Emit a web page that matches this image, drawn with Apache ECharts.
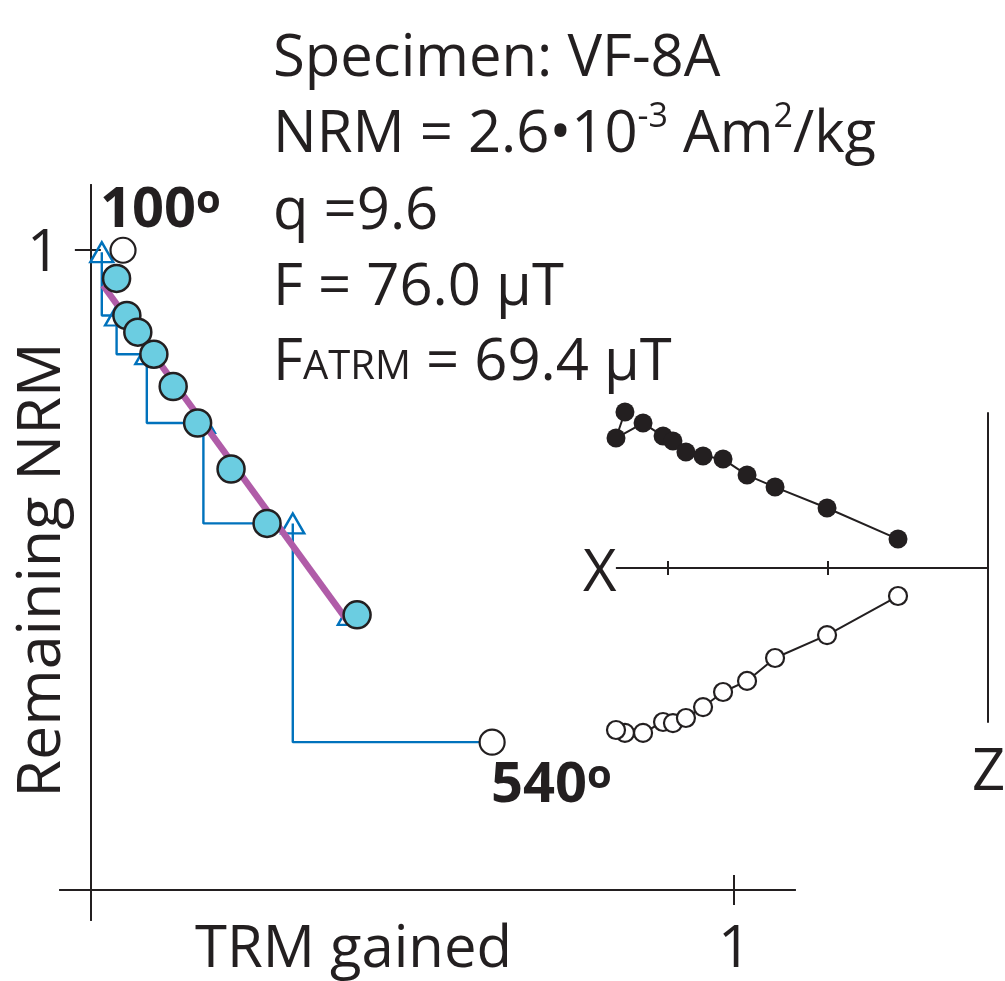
<!DOCTYPE html>
<html>
<head>
<meta charset="utf-8">
<script src="https://cdn.jsdelivr.net/npm/echarts@6/dist/echarts.min.js"></script>
<style>
  html, body { margin: 0; padding: 0; background: #ffffff; }
  #chart { width: 1005px; height: 981px; }
</style>
</head>
<body>
<div id="chart"></div>
<script>
// ---------------- Arai plot data ----------------
const stepLabels = ['100', '540'];
// NRM-TRM points (first = 100°, last = 540°; open symbols not in fit)
const araiTRM = [0.050, 0.040, 0.056, 0.073, 0.098, 0.128, 0.166, 0.218, 0.274, 0.414, 0.624];
const araiNRM = [1.000, 0.956, 0.898, 0.872, 0.8375, 0.787, 0.730, 0.658, 0.573, 0.430, 0.231];
const araiInFit = [false, true, true, true, true, true, true, true, true, true, false];
// pTRM checks
const checkTRM = [0.017, 0.040, 0.087, 0.175, 0.314, 0.402];
const checkNRM = [0.997, 0.898, 0.8375, 0.730, 0.573, 0.430];
const checkToStep = [2, 4, 6, 8, 10, null];
// best-fit segment
const fitTRM = [0.019, 0.398];
const fitNRM = [0.945, 0.422];
const araiTicks = [1];

// ---------------- Zijderveld inset data ----------------
const zijX = [2.269, 2.325, 2.156, 2.031, 1.969, 1.888, 1.781, 1.656, 1.506, 1.331, 1.006, 0.5625];
const zijHoriz = [0.975, 0.8125, 0.906, 0.825, 0.794, 0.725, 0.700, 0.681, 0.581, 0.506, 0.375, 0.181];
const zijVert = [-1.031, -1.0125, -1.031, -0.9625, -0.969, -0.9375, -0.869, -0.775, -0.706, -0.5625, -0.419, -0.175];
const zijTicks = [1, 2];

// ---------------- styling ----------------
const INK = '#231f20';
const BLUE = '#0072bc';
const CYAN = '#6bcde1';
const PURPLE = '#b05ca8';
const FONT = 'Open Sans';
const FS = 58;

const chart = echarts.init(document.getElementById('chart'), null, { renderer: 'canvas' });

const fitted = [], unfitted = [];
araiTRM.forEach((x, i) => (araiInFit[i] ? fitted : unfitted).push([x, araiNRM[i]]));

const checkLineSeries = [];
checkTRM.forEach((tx, k) => {
  const to = checkToStep[k];
  if (to === null) return;
  checkLineSeries.push({
    type: 'line', xAxisIndex: 0, yAxisIndex: 0, z: 2, silent: true,
    symbol: 'none', animation: false, clip: false,
    lineStyle: { color: BLUE, width: 2.4 },
    data: [[tx, checkNRM[k]], [tx, araiNRM[to]], [araiTRM[to], araiNRM[to]]]
  });
});

function txt(style) {
  return Object.assign({ fontFamily: FONT, fontSize: FS, color: INK, lineHeight: 70, fontWeight: 'normal' }, style || {});
}
const base = txt();
const sup = txt({ fontSize: 34, lineHeight: 70, height: 34, verticalAlign: 'top' });
const smallCaps = txt({ fontSize: 40, lineHeight: 70, height: 60, verticalAlign: 'bottom' });
const boldMain = txt({ fontSize: 56, fontWeight: 'bold' });
const boldSup = txt({ fontSize: 40, fontWeight: 'bold', lineHeight: 70, height: 51, verticalAlign: 'top' });

function title(text, left, top, rich) {
  return { text: text, left: left, top: top, padding: 0, itemGap: 0,
    textStyle: Object.assign(txt(), rich ? { rich: rich } : {}) };
}

const option = {
  animation: false,
  backgroundColor: '#ffffff',
  title: [
    title('Specimen: VF-8A', 273, 24, null),
    title('{a|NRM = 2.6•10}{s|-3}{a| Am}{s|2}{a|/kg}', 273, 100, { a: base, s: sup }),
    title('q =9.6', 273, 177, null),
    title('F = 76.0 µT', 273, 253, null),
    title('{a|F}{c|ATRM}{a| = 69.4 µT}', 273, 328, { a: base, c: smallCaps }),
    title('{b|' + stepLabels[0] + '}{o|o}', 100, 176, { b: boldMain, o: boldSup }),
    title('{b|' + stepLabels[1] + '}{o|o}', 491, 751, { b: boldMain, o: boldSup }),
    title('TRM gained', 195, 915, null),
    title(String(araiTicks[0]), 718, 915, null),
    title(String(araiTicks[0]), 27, 219, null),
    title('X', 583, 539, null),
    title('Z', 972, 738, null)
  ],
  graphic: [{
    type: 'text', x: 43, y: 570, rotation: Math.PI / 2, silent: true,
    style: { text: 'Remaining NRM', fontFamily: FONT, fontSize: 61, font: '61px "' + FONT + '"',
      fill: INK, align: 'center', verticalAlign: 'middle', textAlign: 'center', textVerticalAlign: 'middle' }
  }],
  grid: [
    { left: 60, top: 185, width: 735, height: 735, containLabel: false, outerBoundsMode: 'none' },
    { left: 616.8, top: 413, width: 371.2, height: 309, containLabel: false, outerBoundsMode: 'none' }
  ],
  xAxis: [
    { gridIndex: 0, type: 'value', min: -0.048, max: 1.095, position: 'bottom',
      axisLine: { onZero: true, onZeroAxisIndex: 0, lineStyle: { color: INK, width: 2 } },
      axisTick: { show: true, customValues: araiTicks, length: 15, lineStyle: { color: INK, width: 2 } },
      axisLabel: { show: false }, splitLine: { show: false } },
    { gridIndex: 0, type: 'value', min: -0.048, max: 1.095, position: 'top',
      axisLine: { onZero: true, onZeroAxisIndex: 0, lineStyle: { color: INK, width: 2 } },
      axisTick: { show: true, customValues: araiTicks, length: 15, lineStyle: { color: INK, width: 2 } },
      axisLabel: { show: false }, splitLine: { show: false } },
    { gridIndex: 1, type: 'value', min: 0, max: 2.32, inverse: true, position: 'bottom',
      axisLine: { onZero: true, onZeroAxisIndex: 2, lineStyle: { color: INK, width: 2 } },
      axisTick: { show: true, customValues: zijTicks, length: 7, lineStyle: { color: INK, width: 2 } },
      axisLabel: { show: false }, splitLine: { show: false } },
    { gridIndex: 1, type: 'value', min: 0, max: 2.32, inverse: true, position: 'top',
      axisLine: { onZero: true, onZeroAxisIndex: 2, lineStyle: { color: INK, width: 2 } },
      axisTick: { show: true, customValues: zijTicks, length: 7, lineStyle: { color: INK, width: 2 } },
      axisLabel: { show: false }, splitLine: { show: false } }
  ],
  yAxis: [
    { gridIndex: 0, type: 'value', min: -0.047, max: 1.102, position: 'left',
      axisLine: { onZero: true, onZeroAxisIndex: 0, lineStyle: { color: INK, width: 2 } },
      axisTick: { show: true, customValues: araiTicks, length: 16, lineStyle: { color: INK, width: 2 } },
      axisLabel: { show: false }, splitLine: { show: false } },
    { gridIndex: 0, type: 'value', min: -0.047, max: 1.102, position: 'right',
      axisLine: { onZero: true, onZeroAxisIndex: 0, lineStyle: { color: INK, width: 2 } },
      axisTick: { show: true, customValues: araiTicks, length: 10, lineStyle: { color: INK, width: 2 } },
      axisLabel: { show: false }, splitLine: { show: false } },
    { gridIndex: 1, type: 'value', min: -0.9625, max: 0.969, position: 'left',
      axisLine: { onZero: true, onZeroAxisIndex: 2, lineStyle: { color: INK, width: 2 } },
      axisTick: { show: false }, axisLabel: { show: false }, splitLine: { show: false } }
  ],
  series: [
    ...checkLineSeries,
    { type: 'scatter', xAxisIndex: 0, yAxisIndex: 0, z: 3, silent: true, clip: false,
      symbol: 'triangle', symbolSize: [23, 20],
      itemStyle: { color: 'rgba(0,0,0,0)', borderColor: BLUE, borderWidth: 2.4, opacity: 1 },
      data: checkTRM.map((x, i) => [x, checkNRM[i]]) },
    { type: 'line', xAxisIndex: 0, yAxisIndex: 0, z: 4, silent: true, clip: false,
      symbol: 'none', lineStyle: { color: PURPLE, width: 6.5, cap: 'butt' },
      data: fitTRM.map((x, i) => [x, fitNRM[i]]) },
    { type: 'scatter', xAxisIndex: 0, yAxisIndex: 0, z: 5, silent: true, clip: false,
      symbol: 'circle', symbolSize: 27,
      itemStyle: { color: CYAN, borderColor: INK, borderWidth: 2.5, opacity: 1 },
      data: fitted },
    { type: 'scatter', xAxisIndex: 0, yAxisIndex: 0, z: 5, silent: true, clip: false,
      symbol: 'circle', symbolSize: 25,
      itemStyle: { color: '#ffffff', borderColor: INK, borderWidth: 2.2, opacity: 1 },
      data: unfitted },
    { type: 'line', xAxisIndex: 2, yAxisIndex: 2, z: 5, silent: true, clip: false,
      symbol: 'circle', symbolSize: 19, showAllSymbol: true,
      lineStyle: { color: INK, width: 2 },
      itemStyle: { color: INK, borderColor: INK, borderWidth: 0 },
      data: zijX.map((x, i) => [x, zijHoriz[i]]) },
    { type: 'line', xAxisIndex: 2, yAxisIndex: 2, z: 5, silent: true, clip: false,
      symbol: 'circle', symbolSize: 18, showAllSymbol: true,
      lineStyle: { color: INK, width: 2 },
      itemStyle: { color: '#ffffff', borderColor: INK, borderWidth: 2.2 },
      data: zijX.map((x, i) => [x, zijVert[i]]) }
  ]
};
chart.setOption(option);
</script>
</body>
</html>
